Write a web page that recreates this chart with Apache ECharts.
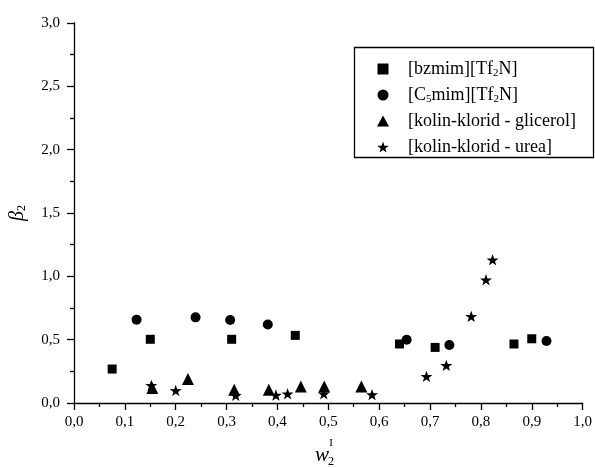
<!DOCTYPE html>
<html>
<head>
<meta charset="utf-8">
<script src="https://cdn.jsdelivr.net/npm/echarts@6/dist/echarts.min.js"></script>
<style>html,body{margin:0;padding:0;background:#fff}#c{width:595px;height:468px}</style>
</head>
<body>
<div id="c"></div>
<script>
// Data
var bzmimX = [0.075, 0.150, 0.310, 0.435, 0.640, 0.710, 0.865, 0.900];
var bzmimY = [0.268, 0.503, 0.503, 0.534, 0.466, 0.439, 0.466, 0.507];
var c5mimX = [0.123, 0.239, 0.307, 0.381, 0.654, 0.738, 0.929];
var c5mimY = [0.658, 0.676, 0.655, 0.620, 0.500, 0.458, 0.489];
var glicX = [0.154, 0.224, 0.315, 0.383, 0.446, 0.492, 0.565];
var glicY = [0.118, 0.189, 0.105, 0.105, 0.131, 0.131, 0.131];
var ureaX = [0.152, 0.200, 0.318, 0.397, 0.420, 0.491, 0.586, 0.693, 0.732, 0.781, 0.810, 0.823];
var ureaY = [0.139, 0.099, 0.060, 0.063, 0.073, 0.073, 0.066, 0.210, 0.297, 0.684, 0.973, 1.131];
var seriesNames = ['[bzmim][Tf2N]', '[C5mim][Tf2N]', '[kolin-klorid - glicerol]', '[kolin-klorid - urea]'];
var legendLabels = ['[bzmim][Tf{s|2}N]', '[C{s|5}mim][Tf{s|2}N]', '[kolin-klorid - glicerol]', '[kolin-klorid - urea]'];

function pairs(xs, ys) { return xs.map(function (x, i) { return [x, ys[i]]; }); }
function fmt(v) { return v.toFixed(1).replace('.', ','); }

var sq = 'path://M0,0 L10,0 L10,10 L0,10 Z';
var tri = 'path://M6,0 L12,11 L0,11 Z';
var circ = 'circle';
var star = 'path://M50,0 L61.8,35.1 L97.6,34.5 L69.1,56.7 L79.4,90.5 L50,70 L20.6,90.5 L30.9,56.7 L2.4,34.5 L38.2,35.1 Z';
var icons = [sq, circ, tri, star];
var FONT = 'Liberation Serif';

var chart = echarts.init(document.getElementById('c'), null, {renderer: 'canvas'});
chart.setOption({
  animation: false,
  backgroundColor: '#fff',
  grid: {left: 67, right: 11, top: 23, bottom: 65, containLabel: false},
  xAxis: {
    type: 'value', min: 0, max: 1, interval: 0.1,
    axisLine: {show: true, onZero: false, lineStyle: {color: '#000', width: 1.3}},
    axisTick: {show: true, inside: false, length: 7, lineStyle: {color: '#000', width: 1.3}},
    minorTick: {show: true, splitNumber: 2, length: 4, lineStyle: {color: '#000', width: 1.3}},
    splitLine: {show: false},
    axisLabel: {color: '#000', fontFamily: FONT, fontSize: 15, margin: 12, formatter: fmt}
  },
  yAxis: {
    type: 'value', min: 0, max: 3, interval: 0.5,
    axisLine: {show: true, onZero: false, lineStyle: {color: '#000', width: 1.3}},
    axisTick: {show: true, inside: false, length: 7, lineStyle: {color: '#000', width: 1.3}},
    minorTick: {show: true, splitNumber: 2, length: 4, lineStyle: {color: '#000', width: 1.3}},
    splitLine: {show: false},
    axisLabel: {color: '#000', fontFamily: FONT, fontSize: 15, margin: 14, formatter: fmt},
    name: '{i|β}{sub|2}',
    nameLocation: 'middle', nameGap: 46, nameRotate: 90,
    nameTextStyle: {
      color: '#000', fontFamily: FONT,
      rich: {
        i: {fontFamily: FONT, fontStyle: 'italic', fontSize: 20, color: '#000'},
        sub: {fontFamily: FONT, fontSize: 12, color: '#000', verticalAlign: 'bottom', padding: [8, 0, 0, 0]}
      }
    }
  },
  legend: {
    orient: 'vertical', left: 372, top: 54,
    itemWidth: 40, itemHeight: 11, itemGap: 6,
    symbolKeepAspect: true,
    data: seriesNames.map(function (n, i) { return {name: n, icon: icons[i]}; }),
    formatter: function (name) { return legendLabels[seriesNames.indexOf(name)]; },
    textStyle: {
      color: '#000', fontFamily: FONT, fontSize: 18, lineHeight: 20,
      rich: {s: {fontFamily: FONT, fontSize: 11, color: '#000', verticalAlign: 'bottom', padding: [9, 0, 0, 0]}}
    }
  },
  graphic: [
    {type: 'rect', left: 352, top: 45, shape: {width: 239, height: 110},
     style: {fill: 'none', stroke: '#000', lineWidth: 1.3}, silent: true, z: 100},
    {type: 'text', x: 322, y: 455, silent: true,
     style: {text: 'w', fontFamily: FONT, fontStyle: 'italic', fontSize: 21, fill: '#000', align: 'center', verticalAlign: 'middle'}},
    {type: 'text', x: 331, y: 443, silent: true,
     style: {text: 'I', fontFamily: FONT, fontSize: 11, fill: '#000', align: 'center', verticalAlign: 'middle'}},
    {type: 'text', x: 331, y: 462, silent: true,
     style: {text: '2', fontFamily: FONT, fontSize: 12, fill: '#000', align: 'center', verticalAlign: 'middle'}}
  ],
  series: [
    {name: seriesNames[0], type: 'scatter', symbol: 'rect', symbolSize: 9, itemStyle: {color: '#000', opacity: 1}, data: pairs(bzmimX, bzmimY)},
    {name: seriesNames[1], type: 'scatter', symbol: 'circle', symbolSize: 10, itemStyle: {color: '#000', opacity: 1}, data: pairs(c5mimX, c5mimY)},
    {name: seriesNames[2], type: 'scatter', symbol: 'triangle', symbolSize: 12, itemStyle: {color: '#000', opacity: 1}, data: pairs(glicX, glicY)},
    {name: seriesNames[3], type: 'scatter', symbol: star, symbolSize: 12, symbolKeepAspect: true, itemStyle: {color: '#000', opacity: 1}, data: pairs(ureaX, ureaY)}
  ]
});
</script>
</body>
</html>
